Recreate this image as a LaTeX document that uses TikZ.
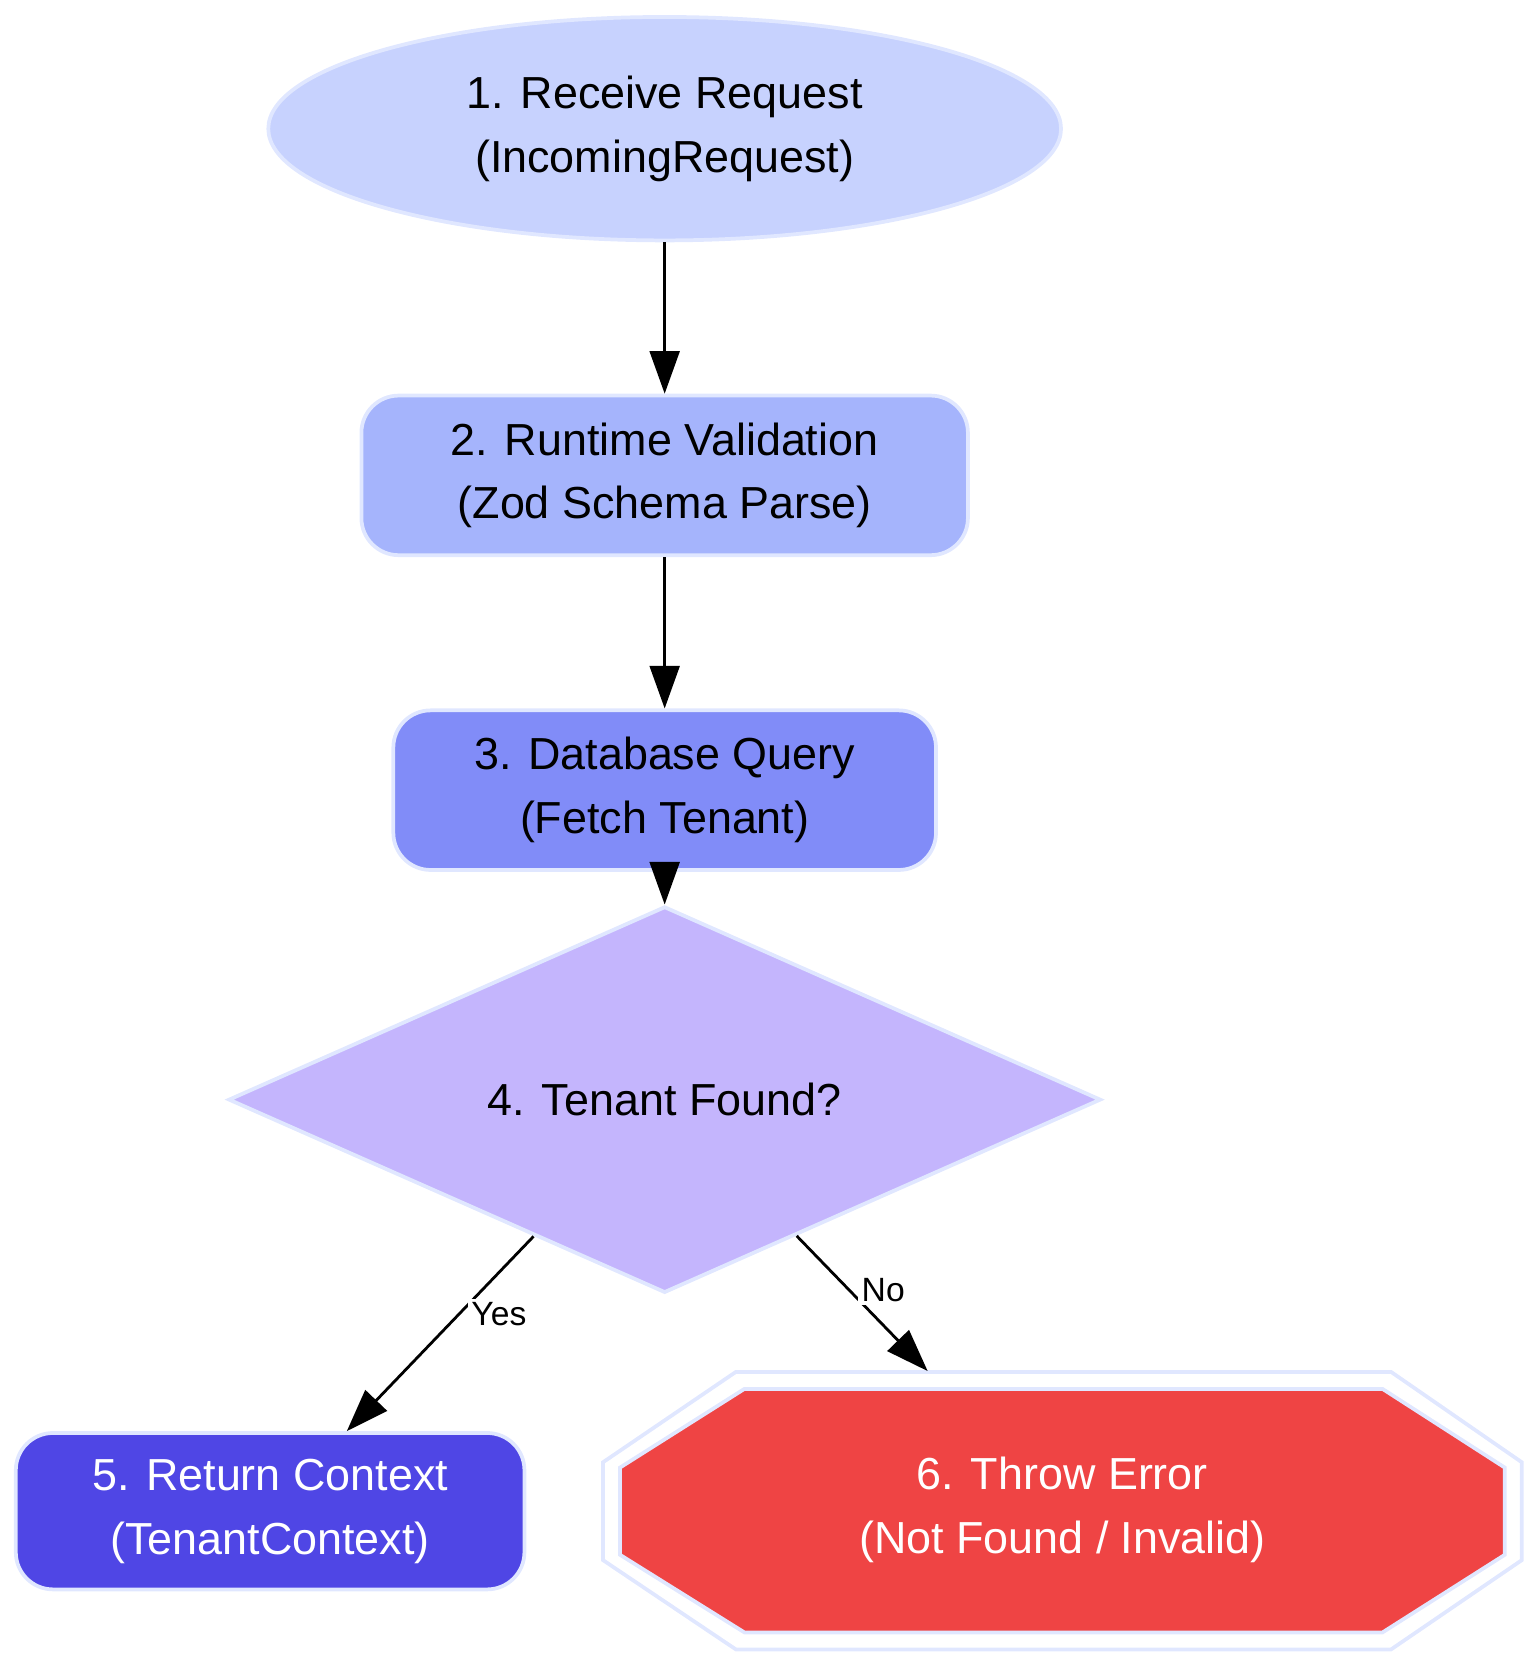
\documentclass[tikz,border=0pt]{standalone}
\usepackage{fontspec}
\setmainfont{Liberation Sans}
\usetikzlibrary{arrows.meta,positioning,shapes.geometric}
\definecolor{recvfill}{HTML}{C7D2FE}
\definecolor{valfill}{HTML}{A5B4FC}
\definecolor{queryfill}{HTML}{818CF8}
\definecolor{decfill}{HTML}{C4B5FD}
\definecolor{retfill}{HTML}{4F46E5}
\definecolor{errfill}{HTML}{EF4444}
\definecolor{edgeline}{HTML}{E0E7FF}

\begin{document}
\begin{tikzpicture}[x=0.01cm, y=-0.01cm,
    stepnode/.style={draw=edgeline, line width=1pt, align=center, font=\fontsize{12}{17}\selectfont, inner sep=0pt},
    roundbox/.style={stepnode, rectangle, rounded corners=0.35cm},
    flow/.style={-{Triangle[length=0.4cm, width=0.28cm]}, line width=0.75pt},
    lbl/.style={font=\fontsize{9}{11}\selectfont, fill=white, inner sep=1pt}
]
    \useasboundingbox (0,0) rectangle (1440,1560);

    % main chain
    \node[stepnode, ellipse, fill=recvfill, minimum width=7.45cm, minimum height=2.1cm] (receive) at (625,121) {1. Receive Request\\(IncomingRequest)};
    \node[roundbox, fill=valfill, minimum width=5.7cm, minimum height=1.5cm] (validate) at (625,447) {2. Runtime Validation\\(Zod Schema Parse)};
    \node[roundbox, fill=queryfill, minimum width=5.1cm, minimum height=1.5cm] (query) at (625,743) {3. Database Query\\(Fetch Tenant)};
    \node[stepnode, diamond, fill=decfill, minimum width=8.2cm, minimum height=1.32cm] (found) at (625,1034) {4. Tenant Found?};

    % outcomes
    \node[roundbox, fill=retfill, text=white, minimum width=4.78cm, minimum height=1.47cm] (context) at (254,1421) {5. Return Context\\(TenantContext)};
    \draw[edgeline, line width=1pt] (567,1375) -- (692,1290) -- (1308,1290) -- (1431,1375) -- (1431,1467) -- (1308,1551) -- (692,1551) -- (567,1467) -- cycle;
    \draw[edgeline, line width=1pt, fill=errfill] (583,1380) -- (700,1306) -- (1300,1306) -- (1415,1380) -- (1415,1462) -- (1300,1535) -- (700,1535) -- (583,1462) -- cycle;
    \node[align=center, text=white, font=\fontsize{12}{17}\selectfont, minimum width=8.64cm, minimum height=2.6cm] (error) at (999,1420) {6. Throw Error\\(Not Found / Invalid)};

    % connectors
    \draw[flow] (receive) -- (validate);
    \draw[flow] (validate) -- (query);
    \draw[flow] (query) -- (found);
    \draw[flow] (found) -- node[lbl, pos=0.4, right=2pt] {Yes} (context);
    \draw[flow] (found) -- node[lbl, pos=0.4, right=2pt] {No} (error);
\end{tikzpicture}
\end{document}
